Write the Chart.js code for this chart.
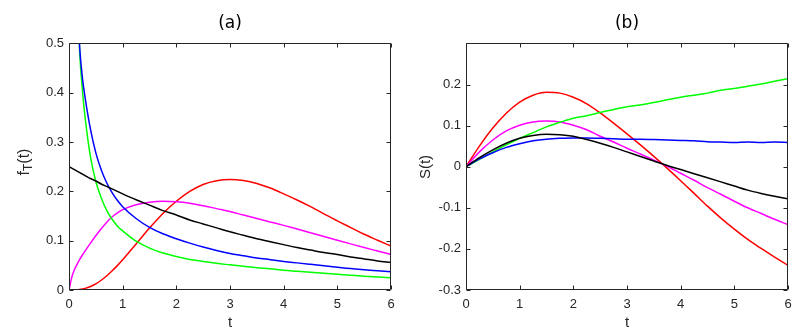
<!DOCTYPE html>
<html>
<head>
<meta charset="utf-8">
<script src="https://cdn.jsdelivr.net/npm/chart.js@4.4.1/dist/chart.umd.min.js"></script>
<style>
  body { margin: 0; background: #fff; }
  #wrap { position: relative; width: 807px; height: 336px; }
  canvas { position: absolute; top: 0; }
  #chart-a { left: 0; }
  #chart-b { left: 403px; }
</style>
</head>
<body>
<div id="wrap">
  <canvas id="chart-a" width="403" height="336"></canvas>
  <canvas id="chart-b" width="404" height="336"></canvas>
</div>
<script>
// panel (a): densities f_T(t)
const tA = [0, 0.05, 0.1, 0.15, 0.2, 0.25, 0.3, 0.4, 0.5, 0.6, 0.7, 0.8, 0.9, 1, 1.25, 1.5, 1.75, 2, 2.25, 2.5, 2.75, 3, 3.25, 3.5, 3.75, 4, 4.25, 4.5, 4.75, 5, 5.25, 5.5, 5.75, 6];
const blackA   = [0.250, 0.247, 0.244, 0.241, 0.238, 0.235, 0.232, 0.226, 0.221, 0.215, 0.210, 0.205, 0.200, 0.195, 0.183, 0.172, 0.161, 0.152, 0.142, 0.134, 0.126, 0.118, 0.111, 0.104, 0.098, 0.092, 0.086, 0.081, 0.076, 0.072, 0.067, 0.063, 0.059, 0.056];
const blueA    = [null, null, null, 0.600, 0.490, 0.430, 0.390, 0.326, 0.278, 0.244, 0.218, 0.198, 0.182, 0.169, 0.145, 0.127, 0.114, 0.104, 0.095, 0.087, 0.080, 0.074, 0.0695, 0.065, 0.0615, 0.058, 0.055, 0.052, 0.049, 0.046, 0.0435, 0.041, 0.039, 0.037];
const greenA   = [null, null, null, 0.620, 0.480, 0.405, 0.350, 0.270, 0.220, 0.187, 0.162, 0.144, 0.130, 0.120, 0.099, 0.085, 0.075, 0.068, 0.062, 0.058, 0.054, 0.051, 0.048, 0.045, 0.043, 0.040, 0.038, 0.036, 0.034, 0.032, 0.030, 0.028, 0.0265, 0.025];
const redA     = [0, 0, 0, 0.0005, 0.001, 0.002, 0.0033, 0.0072, 0.0126, 0.0198, 0.0284, 0.0384, 0.0494, 0.0613, 0.0933, 0.1255, 0.1552, 0.180, 0.200, 0.214, 0.2215, 0.224, 0.2218, 0.216, 0.2067, 0.195, 0.1825, 0.169, 0.1545, 0.140, 0.1266, 0.113, 0.1009, 0.089];
const magentaA = [0, 0.025, 0.041, 0.052, 0.062, 0.071, 0.079, 0.095, 0.110, 0.124, 0.137, 0.148, 0.156, 0.163, 0.173, 0.178, 0.180, 0.179, 0.176, 0.171, 0.165, 0.159, 0.152, 0.145, 0.138, 0.131, 0.1235, 0.116, 0.1085, 0.101, 0.0935, 0.086, 0.079, 0.072];

// panel (b): S(t)
const tB = [0, 0.25, 0.5, 0.75, 1, 1.25, 1.5, 1.75, 2, 2.25, 2.5, 2.75, 3, 3.25, 3.5, 3.75, 4, 4.25, 4.5, 4.75, 5, 5.25, 5.5, 5.75, 6];
const redB     = [0, 0.050, 0.094, 0.130, 0.157, 0.174, 0.181, 0.179, 0.169, 0.153, 0.131, 0.106, 0.080, 0.053, 0.025, -0.004, -0.034, -0.065, -0.096, -0.125, -0.152, -0.177, -0.199, -0.220, -0.240];
const magentaB = [0, 0.036, 0.065, 0.087, 0.101, 0.109, 0.111, 0.109, 0.101, 0.090, 0.074, 0.060, 0.045, 0.031, 0.016, 0.001, -0.016, -0.033, -0.051, -0.067, -0.084, -0.100, -0.114, -0.128, -0.141];
const blackB   = [0, 0.022, 0.041, 0.057, 0.069, 0.076, 0.079, 0.078, 0.074, 0.066, 0.057, 0.047, 0.036, 0.025, 0.014, 0.003, -0.007, -0.017, -0.027, -0.037, -0.047, -0.057, -0.065, -0.072, -0.078];
const blueB    = [0, 0.019, 0.034, 0.047, 0.056, 0.063, 0.067, 0.069, 0.070, 0.070, 0.069, 0.068, 0.067, 0.067, 0.066, 0.065, 0.064, 0.063, 0.061, 0.060, 0.059, 0.060, 0.059, 0.060, 0.059];
const greenB   = [0, 0.018, 0.036, 0.053, 0.069, 0.083, 0.097, 0.108, 0.118, 0.124, 0.132, 0.139, 0.146, 0.150, 0.156, 0.163, 0.169, 0.174, 0.179, 0.186, 0.190, 0.196, 0.201, 0.208, 0.214];

const axisColor = '#262626';
Chart.defaults.font.family = '"Liberation Sans", Arial, sans-serif';
Chart.defaults.color = axisColor;

function series(t, ys, color) {
    return {
        data: t.map((x, i) => ({ x: x, y: ys[i] })),
        borderColor: color,
        borderWidth: 1.5,
        pointRadius: 0,
        cubicInterpolationMode: 'monotone',
        fill: false
    };
}

// MATLAB-like box with ticks pointing inwards
const boxTicks = {
    id: 'boxTicks',
    afterDraw(chart) {
        const { ctx, chartArea: a, scales: { x, y } } = chart;
        const L = Math.round(a.left) + 0.5, R = Math.round(a.right) - 0.5;
        const T = Math.round(a.top) + 0.5, B = Math.round(a.bottom) - 0.5;
        const len = 4;
        ctx.save();
        ctx.strokeStyle = axisColor;
        ctx.lineWidth = 1;
        ctx.beginPath();
        ctx.rect(L, T, R - L, B - T);
        x.ticks.forEach(tk => {
            const px = Math.round(x.getPixelForValue(tk.value)) + 0.5;
            ctx.moveTo(px, B); ctx.lineTo(px, B - len);
            ctx.moveTo(px, T); ctx.lineTo(px, T + len);
        });
        y.ticks.forEach(tk => {
            const py = Math.round(y.getPixelForValue(tk.value)) + 0.5;
            ctx.moveTo(L, py); ctx.lineTo(L + len, py);
            ctx.moveTo(R, py); ctx.lineTo(R - len, py);
        });
        ctx.stroke();
        ctx.restore();
    }
};

// rotated y label, parts = [[text, fontSize, baselineShift], ...]
function yLabel(parts, cx, cy) {
    return {
        id: 'yLabel',
        afterDraw(chart) {
            const ctx = chart.ctx;
            ctx.save();
            ctx.translate(cx, cy);
            ctx.rotate(-Math.PI / 2);
            ctx.fillStyle = axisColor;
            ctx.textBaseline = 'middle';
            let total = 0;
            parts.forEach(p => {
                ctx.font = p[1] + 'px "Liberation Sans", Arial, sans-serif';
                total += ctx.measureText(p[0]).width;
            });
            let xpos = -total / 2;
            parts.forEach(p => {
                ctx.font = p[1] + 'px "Liberation Sans", Arial, sans-serif';
                ctx.fillText(p[0], xpos, p[2]);
                xpos += ctx.measureText(p[0]).width;
            });
            ctx.restore();
        }
    };
}

function makeOptions(title, yMin, yMax, yWidth, padRight, hideTop) {
    return {
        responsive: false,
        animation: false,
        layout: { padding: { left: 0, right: padRight, top: 0, bottom: 0 } },
        plugins: {
            legend: { display: false },
            tooltip: { enabled: false },
            title: {
                display: true,
                text: title,
                fullSize: false,
                color: '#000',
                font: { family: '"DejaVu Sans", sans-serif', size: 17, weight: 'normal' },
                padding: { top: 13, bottom: 10 }
            }
        },
        scales: {
            x: {
                type: 'linear',
                min: 0, max: 6,
                grid: { display: false, drawTicks: false },
                border: { display: false },
                ticks: { stepSize: 1, padding: 7, font: { size: 13 }, color: axisColor, maxRotation: 0 },
                title: { display: true, text: 't', font: { size: 15 }, color: axisColor, padding: { top: 0, bottom: 4 } },
                afterFit: s => { s.height = 46; }
            },
            y: {
                type: 'linear',
                min: yMin, max: yMax,
                grid: { display: false, drawTicks: false },
                border: { display: false },
                ticks: {
                    stepSize: 0.1, padding: 5, font: { size: 13 }, color: axisColor,
                    callback: v => (hideTop && Math.abs(v - yMax) < 1e-9) ? '' : String(Math.round(v * 10) / 10)
                },
                afterFit: s => { s.width = yWidth; }
            }
        }
    };
}

new Chart(document.getElementById('chart-a'), {
    type: 'line',
    data: {
        datasets: [
            series(tA, blackA, '#000000'),
            series(tA, blueA, '#0000ff'),
            series(tA, greenA, '#00ff00'),
            series(tA, magentaA, '#ff00ff'),
            series(tA, redA, '#ff0000')
        ]
    },
    options: makeOptions('(a)', 0, 0.5, 69, 12, false),
    plugins: [boxTicks, yLabel([['f', 16, 0], ['T', 12, 4], ['(t)', 16, 0]], 25, 162)]
});

new Chart(document.getElementById('chart-b'), {
    type: 'line',
    data: {
        datasets: [
            series(tB, blackB, '#000000'),
            series(tB, blueB, '#0000ff'),
            series(tB, greenB, '#00ff00'),
            series(tB, magentaB, '#ff00ff'),
            series(tB, redB, '#ff0000')
        ]
    },
    options: makeOptions('(b)', -0.3, 0.3, 63, 19, true),
    plugins: [boxTicks, yLabel([['S(t)', 15, 0]], 23, 167)]
});
</script>
</body>
</html>
